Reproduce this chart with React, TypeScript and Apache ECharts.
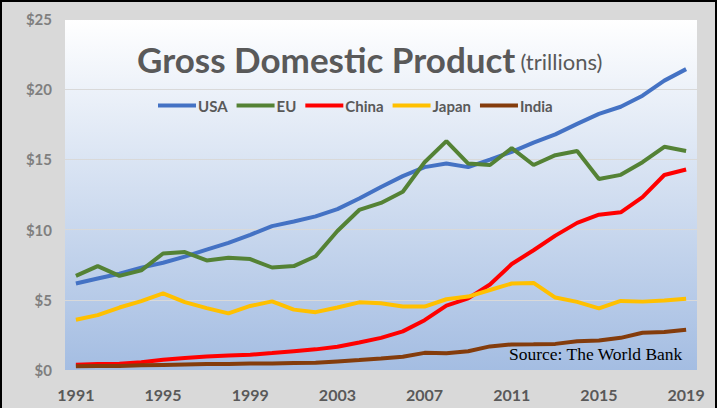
import React, { useEffect, useRef } from "react";
import * as echarts from "echarts";

const years = [
  "1991","1992","1993","1994","1995","1996","1997","1998","1999","2000",
  "2001","2002","2003","2004","2005","2006","2007","2008","2009","2010",
  "2011","2012","2013","2014","2015","2016","2017","2018","2019",
];
const usa = [6.16,6.52,6.86,7.29,7.64,8.07,8.58,9.06,9.63,10.25,10.58,10.94,11.46,12.21,13.04,13.81,14.45,14.71,14.45,14.99,15.54,16.2,16.78,17.53,18.24,18.75,19.54,20.61,21.43];
const eu = [6.7,7.4,6.7,7.1,8.3,8.4,7.8,8.0,7.9,7.3,7.4,8.1,9.9,11.4,11.9,12.7,14.8,16.3,14.7,14.6,15.8,14.6,15.3,15.6,13.6,13.9,14.8,15.9,15.6];
const china = [0.38,0.43,0.44,0.56,0.73,0.86,0.96,1.03,1.09,1.21,1.34,1.47,1.66,1.96,2.29,2.75,3.55,4.59,5.1,6.09,7.55,8.53,9.57,10.48,11.06,11.23,12.31,13.89,14.28];
const japan = [3.58,3.91,4.45,4.91,5.45,4.83,4.41,4.03,4.56,4.89,4.3,4.12,4.45,4.82,4.76,4.53,4.52,5.04,5.23,5.7,6.16,6.2,5.16,4.85,4.39,4.92,4.87,4.95,5.08];
const india = [0.27,0.29,0.28,0.33,0.36,0.39,0.42,0.42,0.46,0.47,0.49,0.51,0.61,0.71,0.82,0.94,1.22,1.2,1.34,1.68,1.82,1.83,1.86,2.04,2.1,2.29,2.65,2.7,2.87];

const seriesNames = ["USA", "EU", "China", "Japan", "India"];
const seriesData = [usa, eu, china, japan, india];
const seriesColors = ["#4472c4", "#548235", "#ff0000", "#ffc000", "#843c0c"];

export default function App() {
  const ref = useRef<HTMLDivElement>(null);
  useEffect(() => {
    document.body.style.margin = "0";
    if (!ref.current) return;
    const chart = echarts.init(ref.current, null, { renderer: "svg" });
    chart.setOption({
      animation: false,
      title: {
        text: "{a|Gross Domestic Product} {b|(trillions)}",
        left: 132,
        top: 36,
        textStyle: {
          rich: {
            a: { fontFamily: "Lato", fontWeight: "bold", fontSize: 35, color: "#595959" },
            b: { fontFamily: "Lato", fontWeight: "normal", fontSize: 22, color: "#595959", padding: [5, 0, 0, 0] },
          },
        },
      },
      legend: {
        data: seriesNames,
        left: 153,
        top: 93,
        icon: "rect",
        itemWidth: 38,
        itemHeight: 4,
        itemGap: 9,
        textStyle: {
          fontFamily: "Lato",
          fontWeight: "bold",
          fontSize: 15,
          color: "#595959",
          padding: [0, 0, 0, -3],
        },
      },
      grid: {
        left: 65,
        right: 24,
        top: 19,
        bottom: 38,
        show: true,
        borderWidth: 0,
        backgroundColor: new echarts.graphic.LinearGradient(0, 0, 0, 1, [
          { offset: 0, color: "#ffffff" },
          { offset: 1, color: "#a4bde2" },
        ]),
      },
      xAxis: {
        type: "category",
        data: years,
        boundaryGap: true,
        axisLine: { show: false },
        axisTick: { show: false },
        axisLabel: {
          interval: 3,
          margin: 16,
          fontFamily: "Lato",
          fontWeight: "bold",
          fontSize: 16,
          color: "#595959",
        },
      },
      yAxis: {
        type: "value",
        min: 0,
        max: 25,
        interval: 5,
        axisLine: { show: false },
        axisTick: { show: false },
        splitLine: { lineStyle: { color: "#d9d9d9", width: 1 } },
        axisLabel: {
          formatter: "${value}",
          margin: 13,
          fontFamily: "Lato",
          fontWeight: "bold",
          fontSize: 15,
          color: "#7f7f7f",
        },
      },
      series: seriesNames.map((name, i) => ({
        name,
        type: "line",
        data: seriesData[i],
        symbol: "none",
        lineStyle: { width: 4, color: seriesColors[i] },
        itemStyle: { color: seriesColors[i] },
      })),
      graphic: [
        {
          type: "text",
          right: 38,
          top: 345,
          style: {
            text: "Source: The World Bank",
            fontFamily: "Liberation Serif",
            fontSize: 17.5,
            fill: "#000000",
          },
        },
      ],
    });
    return () => chart.dispose();
  }, []);
  return (
    <div style={{ position: "relative", width: 721, height: 408, overflow: "hidden", background: "#ffffff" }}>
      <div
        style={{
          position: "absolute",
          left: 0,
          top: 0,
          width: 717,
          height: 420,
          boxSizing: "border-box",
          border: "2px solid #000000",
          background: "#d9d9d9",
        }}
      />
      <div ref={ref} style={{ position: "absolute", left: 0, top: 0, width: 721, height: 408 }} />
    </div>
  );
}
